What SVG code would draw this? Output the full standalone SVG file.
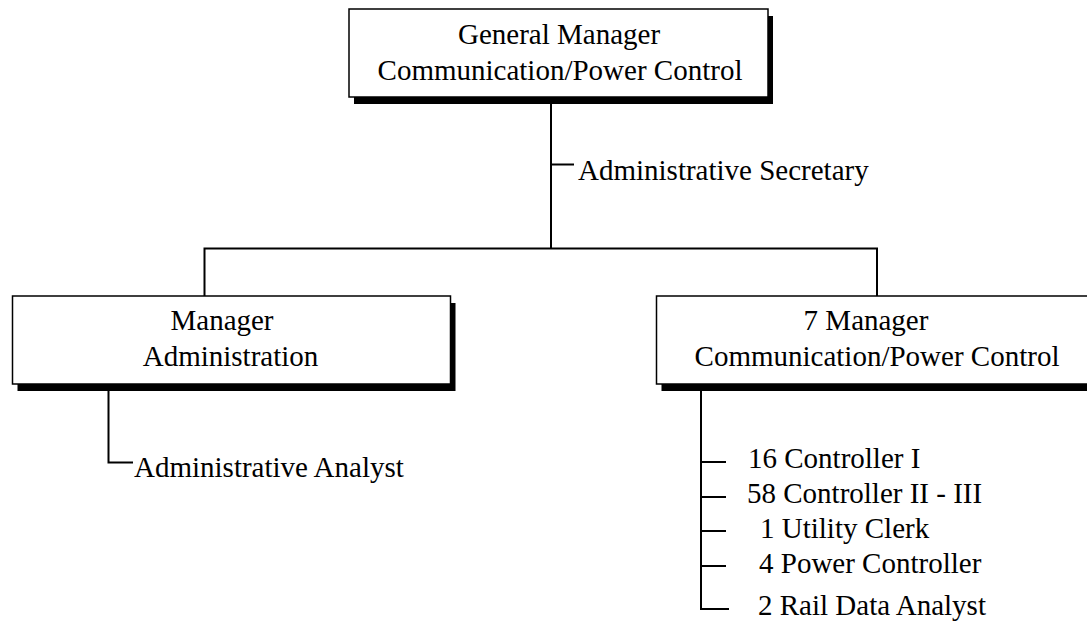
<svg xmlns="http://www.w3.org/2000/svg" width="1087" height="623" viewBox="0 0 1087 623">
<style>
.shadow{fill:#000;stroke:none}
.box{fill:#fff;stroke:#000;stroke-width:1.5}
text{font-family:"Liberation Serif","Times New Roman",serif;font-size:29px;fill:#000}
.c{text-anchor:middle}
.conn{fill:none;stroke:#000;stroke-width:2}
</style>
<rect width="1087" height="623" fill="#fff"/>
<g id="connectors">
<path class="conn" d="M551,100 V248.5"/>
<path class="conn" d="M551,164.5 H574"/>
<path class="conn" d="M204.5,296 V248.5 H877 V296"/>
<path class="conn" d="M108.5,388 V462.5 H133"/>
<path class="conn" d="M701,388 V609 H729"/>
<path class="conn" d="M701,462 H726 M701,497 H726 M701,531 H726 M701,566 H726"/>
</g>
<g id="node-general-manager">
<rect class="shadow" x="354" y="16" width="419" height="88"/>
<rect class="box" x="349" y="9" width="419" height="88"/>
<text class="c" x="559" y="44">General Manager</text>
<text class="c" x="560" y="80">Communication/Power Control</text>
</g>
<g id="node-admin-secretary">
<text x="578" y="180">Administrative Secretary</text>
</g>
<g id="node-manager-administration">
<rect class="shadow" x="17.5" y="303" width="438" height="88"/>
<rect class="box" x="12.5" y="296" width="438" height="88"/>
<text class="c" x="222" y="330">Manager</text>
<text class="c" x="230.5" y="366">Administration</text>
</g>
<g id="node-admin-analyst">
<text x="134" y="477">Administrative Analyst</text>
</g>
<g id="node-manager-comm">
<rect class="shadow" x="661.5" y="303" width="442" height="88"/>
<rect class="box" x="656.5" y="296" width="442" height="88"/>
<text class="c" x="866" y="330">7 Manager</text>
<text class="c" x="877" y="366">Communication/Power Control</text>
</g>
<g id="node-controller-1"><text x="748" y="468">16 Controller I</text></g>
<g id="node-controller-2-3"><text x="747" y="503">58 Controller II - III</text></g>
<g id="node-utility-clerk"><text x="760" y="538">1 Utility Clerk</text></g>
<g id="node-power-controller"><text x="759" y="573">4 Power Controller</text></g>
<g id="node-rail-data-analyst"><text x="758" y="615">2 Rail Data Analyst</text></g>
</svg>
